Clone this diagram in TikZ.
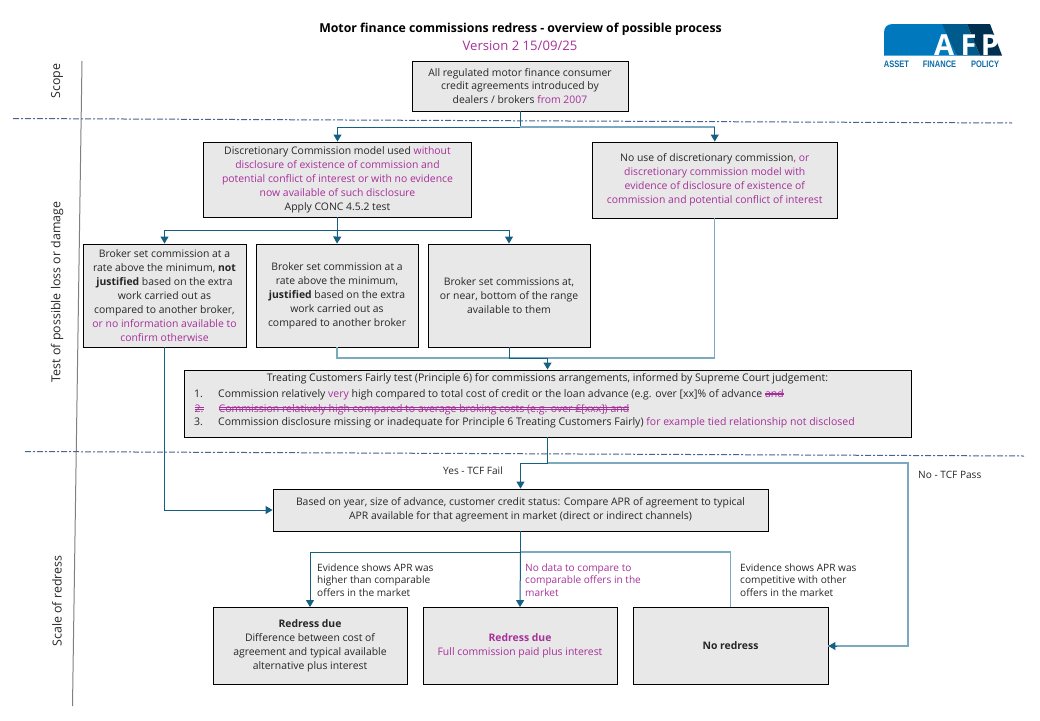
\documentclass[tikz,border=0pt]{standalone}
\usepackage{fontspec}
\setmainfont{Open Sans}
\newfontfamily\logofont[FakeStretch=0.8]{Liberation Sans}
\usepackage{xcolor}
\usetikzlibrary{arrows.meta, shapes}
\definecolor{flowblue}{HTML}{156082}
\definecolor{palelink}{HTML}{7BA9C0}
\definecolor{versionpink}{HTML}{A6309A}
\definecolor{boxgrey}{HTML}{E8E8E8}
\definecolor{dashnavy}{HTML}{4A6491}
\definecolor{logolight}{HTML}{0078BE}
\definecolor{logomid}{HTML}{005A8C}
\definecolor{logodark}{HTML}{003050}
\definecolor{logotext}{HTML}{0B6CA6}
\newcommand{\pk}[1]{\textcolor{versionpink}{#1}}
\newsavebox\strikebox
\newcommand{\dstrike}[1]{\sbox\strikebox{#1}\rlap{\usebox\strikebox}\rlap{\rule[2.4pt]{\wd\strikebox}{0.7pt}}\rlap{\rule[4.2pt]{\wd\strikebox}{0.7pt}}\hspace{\wd\strikebox}}
\begin{document}
\begin{tikzpicture}[x=1pt, y=-1pt]
  \tikzstyle{procbox}=[draw=black, fill=boxgrey, line width=0.9pt, align=center, inner sep=0pt, font=\fontsize{10.4}{13.9}\selectfont, text=black!85]
  \tikzstyle{note}=[inner sep=0pt, align=left, anchor=north west, font=\fontsize{10.1}{12.6}\selectfont, text=black!85]
  \tikzstyle{rowtext}=[inner sep=0pt, anchor=base west, font=\fontsize{10.5}{13}\selectfont, text=black!85]
  \tikzstyle{phase}=[inner sep=0pt, rotate=90, font=\fontsize{12.4}{14}\selectfont, text=black!85]
  \tikzstyle{flow}=[draw=flowblue, line width=1pt]
  \tikzstyle{palelink}=[draw=palelink, line width=1.4pt]
  \tikzstyle{tip}=[-{Triangle[length=7pt, width=8pt]}, flowblue]
  \tikzstyle{divider}=[draw=dashnavy, line width=1pt, dash pattern=on 6pt off 2pt on 2pt off 2pt]
  \tikzstyle{logoletter}=[inner sep=0pt, anchor=base, text=white, font=\fontsize{29}{29}\bfseries\selectfont]
  \tikzstyle{logoword}=[inner sep=0pt, text=logotext, font=\logofont\fontsize{9.4}{10}\bfseries\selectfont]
  \useasboundingbox (0,0) rectangle (1040,720);

  % title
  \node (title) at (520.5,29.5) [inner sep=0pt, font=\fontsize{12.3}{14}\bfseries\selectfont] {Motor finance commissions redress - overview of possible process};
  \node (version) at (520,46) [inner sep=0pt, text=versionpink, font=\fontsize{13.1}{15}\selectfont] {Version 2 15/09/25};

  % logo
  \fill[logolight] (884,55.5) -- (884,33) .. controls (884,27) and (887,24) .. (893,24) -- (945,24) -- (957,55.5) -- cycle;
  \fill[logomid] (942,24) -- (967,24) -- (980,55.5) -- (957,55.5) -- cycle;
  \fill[logodark] (967,24) -- (990,24) -- (1002,55.5) -- (980,55.5) -- cycle;
  \node (logoa) at (944,55.5) [logoletter] {A};
  \node (logof) at (968.5,55.5) [logoletter] {F};
  \node (logop) at (990,55.5) [logoletter] {P};
  \node (logoasset) at (896.5,64) [logoword] {ASSET};
  \node (logofinance) at (939.5,64) [logoword] {FINANCE};
  \node (logopolicy) at (985,64) [logoword] {POLICY};

  % axis and dividers
  \draw[draw=gray, line width=1pt] (82,61) -- (72.5,706);
  \draw[divider] (13,118.5) -- (1012,123);
  \draw[divider] (25,451.5) -- (1024,456);
  \node (scopephase) at (57,81) [phase] {Scope};
  \node (testphase) at (57,292) [phase] {Test of possible loss or damage};
  \node (scalephase) at (57,601) [phase] {Scale of redress};

  % boxes
  \node (scope) at (520,86) [procbox, minimum width=216pt, minimum height=50pt] {All regulated motor finance consumer\\credit agreements  introduced by\\dealers / brokers \pk{from 2007}};
  \node (disc) at (337.5,179.5) [procbox, minimum width=268pt, minimum height=75pt] {Discretionary Commission model used \pk{without}\\\pk{disclosure of existence of commission and}\\\pk{potential conflict of interest or with no evidence}\\\pk{now available of such disclosure}\\Apply CONC 4.5.2 test};
  \node (nodisc) at (714.75,180) [procbox, minimum width=245pt, minimum height=76pt] {No use of discretionary commission\pk{, or}\\\pk{discretionary commission model with}\\\pk{evidence of disclosure of existence of}\\\pk{commission and potential conflict of interest}};
  \node (brokera) at (164.5,295.5) [procbox, minimum width=163pt, minimum height=103pt] {Broker set commission at a\\rate above the minimum, \textbf{not}\\\textbf{justified} based on the extra\\work carried out as\\compared to another broker,\\\pk{or no information available to}\\\pk{confirm otherwise}};
  \node (brokerb) at (337,295.5) [procbox, minimum width=162pt, minimum height=103pt] {Broker set commission at a\\rate above the minimum,\\\textbf{justified} based on the extra\\work carried out as\\compared to another broker};
  \node (brokerc) at (509,295.5) [procbox, minimum width=162pt, minimum height=103pt] {Broker set commissions at,\\or near, bottom of the range\\available to them};
  \node (tcf) at (547.5,403.5) [procbox, minimum width=727pt, minimum height=67pt] {};
  \node (apr) at (520.5,510) [procbox, minimum width=495pt, minimum height=42pt] {Based on year, size of advance, customer credit status: Compare APR of agreement to typical\\APR available for that agreement in market (direct or indirect channels)};
  \node (redressa) at (310,646) [procbox, minimum width=194pt, minimum height=77pt] {\textbf{Redress due}\\Difference between cost of\\agreement and typical available\\alternative plus interest};
  \node (redressb) at (520,646) [procbox, minimum width=194pt, minimum height=77pt] {\textcolor{versionpink}{\textbf{Redress due}}\\\pk{Full commission paid plus interest}};
  \node (noredress) at (730.5,646) [procbox, minimum width=195pt, minimum height=77pt] {\textbf{No redress}};

  % text of the test box
  \node (tcfhead) at (547.5,379) [inner sep=0pt, font=\fontsize{10.5}{13}\selectfont, text=black!85] {Treating Customers Fairly test (Principle 6) for commissions arrangements, informed by Supreme Court judgement:};
  \node (numa) at (194,397.5) [rowtext] {1.};
  \node (rowa) at (218,397.5) [rowtext] {Commission relatively \pk{very} high compared to total cost of credit or the loan advance (e.g. over [xx]\%  of advance \textcolor{versionpink}{\dstrike{and}}};
  \node (numb) at (194,412) [rowtext, text=versionpink] {\dstrike{2.}};
  \node (rowb) at (218,412) [rowtext, text=versionpink] {\dstrike{Commission relatively high compared to average  broking costs (e.g. over  £[xxx]) and}};
  \node (numc) at (194,425) [rowtext] {3.};
  \node (rowc) at (218,425) [rowtext] {Commission disclosure missing or inadequate for Principle 6 Treating Customers Fairly) \pk{for example tied relationship not disclosed}};

  % labels on the connectors
  \node (yeslabel) at (473,471) [note, anchor=center] {Yes - TCF Fail};
  \node (nolabel) at (918,470.5) [note] {No - TCF Pass};
  \node (higherlabel) at (317,563.5) [note] {Evidence shows APR was\\higher than comparable\\offers in the market};
  \node (nodatalabel) at (525,563.5) [note, text=versionpink] {No data to compare to\\comparable offers in the\\market};
  \node (otherlabel) at (740,563.5) [note] {Evidence shows APR was\\competitive with other\\offers in the market};

  % junctions
  \coordinate (scopesplit) at (scope.south |- 0,127);
  \coordinate (discsplit) at (disc.south |- 0,230);
  \coordinate (tcfjoin) at (tcf.north |- 0,358);
  \coordinate (tcfsplit) at (tcf.south |- 0,463);
  \coordinate (aprsplit) at (apr.south |- 0,552);
  \coordinate (passturn) at (908,646);

  % connectors
  \draw[flow] (scope.south) -- (scopesplit);
  \draw[flow, tip] (scopesplit) -| (disc.north);
  \draw[palelink] (scopesplit) -- (scopesplit -| nodisc.north);
  \draw[flow, tip] (scopesplit -| nodisc.north) -- (nodisc.north);

  \draw[flow] (disc.south) -- (discsplit);
  \draw[flow, tip] (discsplit) -| (brokera.north);
  \draw[flow, tip] (discsplit) -- (brokerb.north);
  \draw[flow, tip] (discsplit) -| (brokerc.north);

  \draw[flow, tip] (brokera.south) |- (apr.west);
  \draw[palelink] (brokerb.south) |- (tcfjoin);
  \draw[flow] (brokerc.south) |- (tcfjoin);
  \draw[palelink] (nodisc.south) |- (tcfjoin);
  \draw[flow, tip] (tcfjoin) -- (tcf.north);

  \draw[flow] (tcf.south) -- (tcfsplit);
  \draw[flow, tip] (tcfsplit) -| (apr.north);
  \draw[palelink] (tcfsplit) -| (passturn) -- (passturn -| noredress.east);
  \draw[flow, tip] ([xshift=9pt]passturn -| noredress.east) -- (passturn -| noredress.east);

  \draw[flow] (apr.south) -- (aprsplit);
  \draw[flow, tip] (aprsplit) -| (redressa.north);
  \draw[flow, tip] (aprsplit) -- (redressb.north);
  \draw[palelink] (aprsplit) -| (noredress.north);
\end{tikzpicture}
\end{document}
